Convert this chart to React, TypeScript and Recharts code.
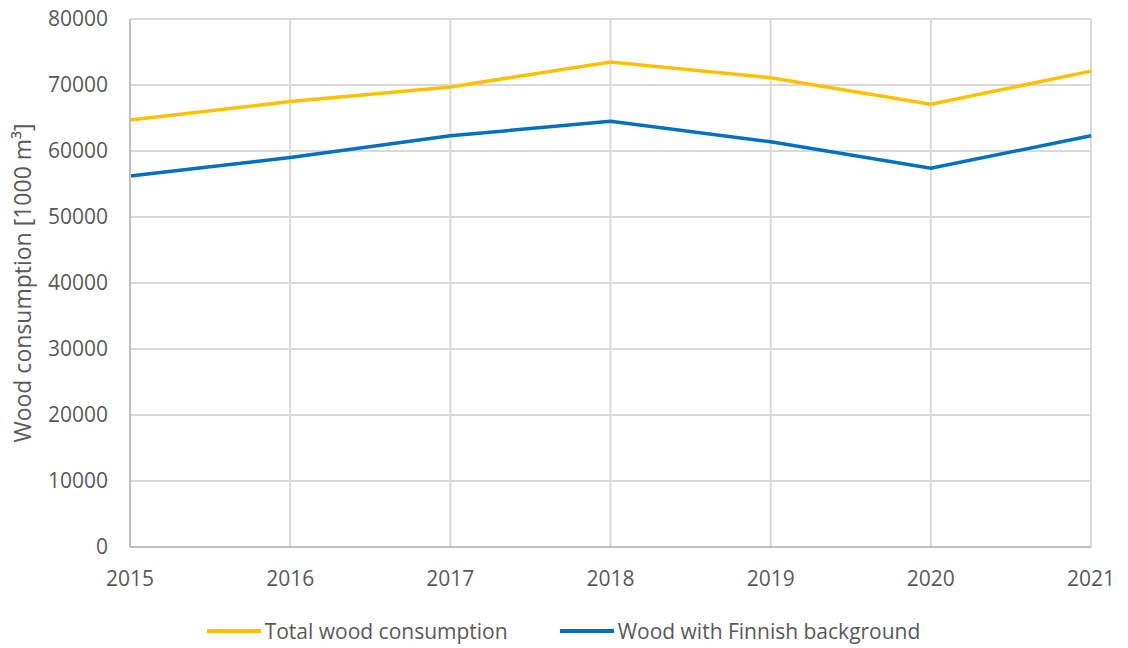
import { LineChart, Line, XAxis, YAxis, CartesianGrid, Legend } from 'recharts';

const years = ['2015', '2016', '2017', '2018', '2019', '2020', '2021'];
const totalWood = [64700, 67500, 69700, 73500, 71100, 67100, 72100];
const finnishWood = [56200, 59000, 62300, 64500, 61400, 57400, 62300];
const yTicks = [0, 10000, 20000, 30000, 40000, 50000, 60000, 70000, 80000];

const data = years.map((year, i) => ({
  year,
  total: totalWood[i],
  finnish: finnishWood[i],
}));

const FONT = '"Open Sans", "Liberation Sans", sans-serif';
const TEXT = '#595959';

function YLabel() {
  return (
    <text
      x={22}
      y={283}
      transform="rotate(-90 22 283)"
      textAnchor="middle"
      dominantBaseline="central"
      fill={TEXT}
      fontSize={23}
      fontFamily={FONT}
    >
      Wood consumption [1000 m³]
    </text>
  );
}

function LegendContent({ payload }: any) {
  return (
    <div
      style={{
        display: 'flex',
        justifyContent: 'center',
        alignItems: 'center',
        height: 40,
        paddingTop: 6,
        paddingLeft: 36,
        boxSizing: 'border-box',
        fontFamily: FONT,
        fontSize: 21,
        color: TEXT,
        gap: 52,
      }}
    >
      {(payload || []).map((p: any) => (
        <div key={p.value} style={{ display: 'flex', alignItems: 'center' }}>
          <div style={{ width: 54, height: 4, background: p.color, marginRight: 4 }} />
          <span>{p.value}</span>
        </div>
      ))}
    </div>
  );
}

export default function App() {
  return (
    <div style={{ position: 'absolute', left: 0, top: 0, width: 1128, height: 648, background: '#fff' }}>
      <LineChart width={1128} height={648} data={data} margin={{ top: 19, right: 37, bottom: 0, left: 0 }}>
        <CartesianGrid stroke="#d9d9d9" strokeWidth={2} />
        <XAxis
          dataKey="year"
          height={61}
          tickSize={0}
          tickMargin={24}
          axisLine={{ stroke: '#bfbfbf', strokeWidth: 2 }}
          tick={{ fill: TEXT, fontSize: 21, fontFamily: FONT }}
          interval={0}
        />
        <YAxis
          width={130}
          domain={[0, 80000]}
          ticks={yTicks}
          tickSize={0}
          tickMargin={22}
          axisLine={{ stroke: '#bfbfbf', strokeWidth: 2 }}
          tick={{ fill: TEXT, fontSize: 21, fontFamily: FONT }}
          label={<YLabel />}
        />
        <Legend verticalAlign="bottom" content={<LegendContent />} />
        <Line
          type="linear"
          dataKey="total"
          name="Total wood consumption"
          stroke="#FFC000"
          strokeWidth={3.5}
          dot={false}
          isAnimationActive={false}
        />
        <Line
          type="linear"
          dataKey="finnish"
          name="Wood with Finnish background"
          stroke="#0070C0"
          strokeWidth={3.5}
          dot={false}
          isAnimationActive={false}
        />
      </LineChart>
    </div>
  );
}
